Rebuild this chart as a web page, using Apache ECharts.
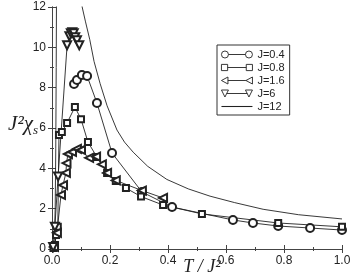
<!DOCTYPE html>
<html><head><meta charset="utf-8">
<script src="https://cdn.jsdelivr.net/npm/echarts@6/dist/echarts.min.js"></script>
<style>html,body{margin:0;padding:0;background:#fff}#c{width:351px;height:272px}</style>
</head><body><div id="c"></div>
<script>
// Data (T/J^2, J^2 chi_s)
const xTicks = ['0.0','0.2','0.4','0.6','0.8','1.0'];
const yTicks = ['0','2','4','6','8','10','12'];
const seriesNames = ['J=0.4','J=0.8','J=1.6','J=6','J=12'];
const j04 = [[0.076,8.18],[0.086,8.38],[0.103,8.63],[0.121,8.58],[0.155,7.24],[0.207,4.76],[0.31,2.83],[0.414,2.08],[0.624,1.44],[0.693,1.29],[0.78,1.14],[0.89,1.04],[1.0,0.94]];
const j08 = [[0.005,0.05],[0.01,0.2],[0.014,0.7],[0.02,1.1],[0.024,5.65],[0.034,5.8],[0.052,6.25],[0.079,7.04],[0.1,6.44],[0.124,5.3],[0.155,4.56],[0.19,3.77],[0.22,3.37],[0.255,3.02],[0.307,2.6],[0.383,2.18],[0.517,1.74],[0.78,1.29],[1.0,1.1]];
const j16 = [[0.007,0.1],[0.017,0.8],[0.031,2.68],[0.038,3.17],[0.048,3.77],[0.05,4.26],[0.055,4.71],[0.069,4.81],[0.086,4.96],[0.1,4.91],[0.128,4.52],[0.152,4.58],[0.172,4.2],[0.19,3.77],[0.22,3.4],[0.31,2.9],[0.383,2.53]];
const j6 = [[0.004,0.1],[0.01,1.1],[0.021,3.6],[0.052,10.1],[0.06,10.55],[0.065,10.7],[0.07,10.75],[0.075,10.7],[0.08,10.5],[0.086,10.35],[0.094,10.1]];
const j12 = [[0.003,0],[0.008,0.5],[0.011,2],[0.013,5],[0.0145,9],[0.0155,12.5],[0.017,16],
  [0.095,13],[0.104,12],[0.115,11.3],[0.13,10.4],[0.145,9.3],[0.166,8.2],[0.19,7.1],[0.224,5.9],[0.25,5.3],[0.28,4.8],
  [0.33,4.1],[0.396,3.45],[0.47,2.98],[0.545,2.62],[0.63,2.3],[0.728,1.97],[0.85,1.7],[1.0,1.49]];

const INK = '#222';
const icons = {
  'J=0.4': 'path://M0,4 A3.5,3.5 0 1,1 7,4 A3.5,3.5 0 1,1 0,4 Z M7,4 L24,4 M24,4 A3.5,3.5 0 1,1 31,4 A3.5,3.5 0 1,1 24,4 Z',
  'J=0.8': 'path://M0.5,1 L6.5,1 L6.5,7 L0.5,7 Z M6.5,4 L24.5,4 M24.5,1 L30.5,1 L30.5,7 L24.5,7 Z',
  'J=1.6': 'path://M0,4 L6.5,0.5 L6.5,7.5 Z M6.5,4 L24.5,4 M24.5,4 L31,0.5 L31,7.5 Z',
  'J=6': 'path://M0,0.5 L7,0.5 L3.5,7.5 Z M5.3,4 L25.8,4 M24,0.5 L31,0.5 L27.5,7.5 Z'
};
const legendData = seriesNames.map(n => icons[n]
  ? {name: n, icon: icons[n], itemStyle: {color: '#fff', borderColor: INK, borderWidth: 0.9}}
  : {name: n, icon: 'path://M4,3.6 L27,3.6 L27,4.4 L4,4.4 Z', itemStyle: {color: INK, borderWidth: 0}});

function mk(name, data, symbol, rot, size) {
  return {
    name, type: 'line', data, symbol, symbolRotate: rot, symbolSize: size,
    showSymbol: symbol !== 'none', clip: true, animation: false,
    lineStyle: {color: INK, width: 0.9},
    itemStyle: {color: INK, borderColor: INK, borderWidth: 0.9}
  };
}

const axisLine = {show: true, lineStyle: {color: '#444', width: 1}};
const chart = echarts.init(document.getElementById('c'), null, {renderer: 'canvas'});
chart.setOption({
  backgroundColor: '#fff',
  animation: false,
  grid: {left: 52, right: 9, top: 7, bottom: 23, outerBoundsMode: 'none', containLabel: false},
  legend: {
    orient: 'vertical', left: 217, top: 45,
    padding: [4, 5, 3, 4], itemGap: 2, itemWidth: 31, itemHeight: 8,
    borderColor: '#333', borderWidth: 1,
    textStyle: {fontFamily: 'Liberation Sans', fontSize: 11, lineHeight: 11, color: INK},
    data: legendData
  },
  xAxis: [{
    type: 'value', min: 0, max: 1, interval: 0.2,
    axisLine, axisTick: {inside: true, length: 4, lineStyle: {color: '#444'}},
    minorTick: {show: true, splitNumber: 2, length: 2, lineStyle: {color: '#444'}},
    splitLine: {show: false},
    axisLabel: {formatter: (v) => xTicks[Math.round(v / 0.2)], fontFamily: 'Liberation Sans', fontSize: 12, color: INK, margin: 6},
    name: 'T / J²', nameLocation: 'middle', nameGap: 9, nameMoveOverlap: false,
    nameTextStyle: {fontFamily: 'Liberation Serif', fontStyle: 'italic', fontSize: 18, color: INK, verticalAlign: 'top', padding: [0, 0, 0, 10]}
  }, {
    type: 'value', min: 0, max: 1, interval: 0.2, position: 'top',
    axisLine, axisTick: {inside: true, length: 4, lineStyle: {color: '#444'}},
    minorTick: {show: true, splitNumber: 2, length: 2, lineStyle: {color: '#444'}},
    splitLine: {show: false}, axisLabel: {show: false}
  }],
  yAxis: [{
    type: 'value', min: 0, max: 12, interval: 2,
    axisLine, axisTick: {inside: true, length: 4, lineStyle: {color: '#444'}},
    minorTick: {show: true, splitNumber: 2, length: 2, lineStyle: {color: '#444'}},
    splitLine: {show: false},
    axisLabel: {formatter: (v) => yTicks[Math.round(v / 2)], fontFamily: 'Liberation Sans', fontSize: 12, color: INK, margin: 6},
    name: '{a|J²χ}{s|s}', nameLocation: 'middle', nameRotate: 0, nameGap: 14, nameMoveOverlap: false,
    nameTextStyle: {
      padding: [0, 0, 8, 0],
      rich: {
        a: {fontFamily: 'Liberation Serif', fontStyle: 'italic', fontSize: 21, color: INK, lineHeight: 26, verticalAlign: 'middle'},
        s: {fontFamily: 'Liberation Serif', fontStyle: 'italic', fontSize: 13, color: INK, lineHeight: 26, verticalAlign: 'bottom', padding: [10, 0, 0, 0]}
      }
    }
  }, {
    type: 'value', min: 0, max: 12, interval: 2, position: 'right',
    axisLine, axisTick: {inside: true, length: 4, lineStyle: {color: '#444'}},
    minorTick: {show: true, splitNumber: 2, length: 2, lineStyle: {color: '#444'}},
    splitLine: {show: false}, axisLabel: {show: false}
  }],
  series: [
    mk('J=0.4', j04, 'emptyCircle', 0, 8),
    mk('J=0.8', j08, 'emptyRect', 0, 6),
    mk('J=1.6', j16, 'emptyTriangle', 90, 8),
    mk('J=6', j6, 'emptyTriangle', 180, 8),
    mk('J=12', j12, 'none', 0, 0)
  ]
});
</script></body></html>
